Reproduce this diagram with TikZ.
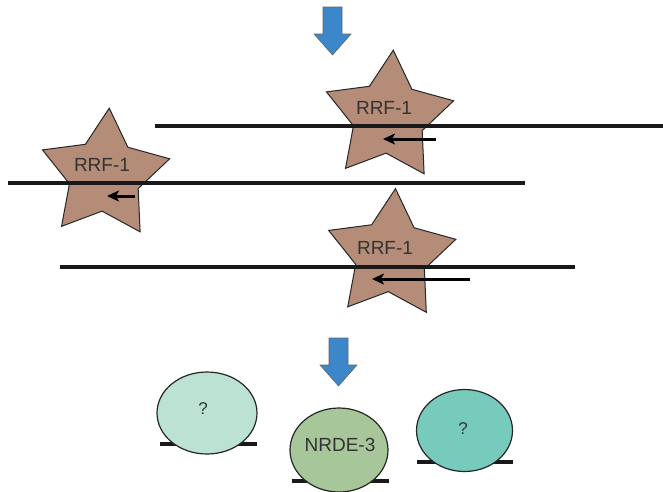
\documentclass[tikz,border=0pt]{standalone}
\usepackage{fontspec}
\setmainfont{Liberation Sans}
\usepackage{xcolor}
\usetikzlibrary{shapes.geometric,arrows.meta}

\definecolor{rrfbrown}{HTML}{B48C77}
\definecolor{arrowblue}{HTML}{3B87C9}
\definecolor{qlight}{HTML}{BCE2D4}
\definecolor{nrdegreen}{HTML}{A7C69A}
\definecolor{qteal}{HTML}{76CBBC}
\definecolor{txtgray}{HTML}{333333}

\tikzset{
  rrfstar/.style={star, star points=5, star point ratio=1.85, minimum size=134pt,
    inner sep=0pt, draw=black!85, line width=1pt, fill=rrfbrown},
  rrflabel/.style={font=\fontsize{19}{19}\selectfont, text=txtgray},
  strand/.style={line width=3.4pt, black!90},
  blob/.style={ellipse, draw=black!85, line width=1.2pt, inner sep=0pt,
    font=\fontsize{19}{19}\selectfont, text=txtgray},
  bigarrow/.style={fill=arrowblue, draw=black!60, line width=0.6pt},
}

\begin{document}
\begin{tikzpicture}[x=1pt,y=-1pt,>={Stealth[length=12pt,width=11pt,inset=3pt]}]
  \useasboundingbox (0,0) rectangle (663,491);
% block arrows
  \foreach \ax/\ay in {332.5/7, 338.5/338}
    \draw[bigarrow] (\ax-9.5,\ay) -- (\ax+9.5,\ay) -- (\ax+9.5,\ay+27)
      -- (\ax+18.5,\ay+27) -- (\ax,\ay+48) -- (\ax-18.5,\ay+27)
      -- (\ax-9.5,\ay+27) -- cycle;
% the three RRF-1 stars on their strands
  \coordinate (l1a) at (155,126);  \coordinate (l1b) at (663,126);
  \coordinate (l2a) at (8,183);    \coordinate (l2b) at (525,183);
  \coordinate (l3a) at (60,267);   \coordinate (l3b) at (575,267);
  \node[rrfstar, rotate=-4] (s1) at (388.6,117) {};
  \node[rrfstar, rotate=-4] (s2) at (104.6,175) {};
  \node[rrfstar, rotate=-4] (s3) at (390.8,255.5) {};
  \draw[strand] (l1a) -- (l1b);
  \draw[strand] (l2a) -- (l2b);
  \draw[strand] (l3a) -- (l3b);
  \node[rrflabel] (t1) at (384,108) {RRF-1};
  \node[rrflabel] (t2) at (102,165) {RRF-1};
  \node[rrflabel] (t3) at (385,248) {RRF-1};
% RNA arrows
  \coordinate (r1a) at (436,139); \coordinate (r1b) at (383,139);
  \coordinate (r2a) at (135,196); \coordinate (r2b) at (107,196);
  \coordinate (r3a) at (470,279); \coordinate (r3b) at (372,279);
  \draw[->, line width=3pt] (r1a) -- (r1b);
  \draw[->, line width=3pt] (r2a) -- (r2b);
  \draw[->, line width=3pt] (r3a) -- (r3b);
% argonautes
  \coordinate (b1a) at (160,444); \coordinate (b1b) at (257,444);
  \coordinate (b2a) at (292,481); \coordinate (b2b) at (389,481);
  \coordinate (b3a) at (417,462); \coordinate (b3b) at (513,462);
  \draw[strand] (b1a) -- (b1b);
  \draw[strand] (b2a) -- (b2b);
  \draw[strand] (b3a) -- (b3b);
  \node[blob, fill=qlight, minimum width=100pt, minimum height=82pt] (e1) at (207,413) {};
  \node[blob, fill=nrdegreen, minimum width=98pt, minimum height=84pt] (e2) at (339,450) {};
  \node[blob, fill=qteal, minimum width=96pt, minimum height=82pt] (e3) at (464.5,430.5) {};
  \node[rrflabel, font=\fontsize{17}{17}\selectfont] (q1) at (203,409) {?};
  \node[rrflabel] (n2) at (340,445) {NRDE-3};
  \node[rrflabel, font=\fontsize{17}{17}\selectfont] (q3) at (463,429) {?};
\end{tikzpicture}
\end{document}
